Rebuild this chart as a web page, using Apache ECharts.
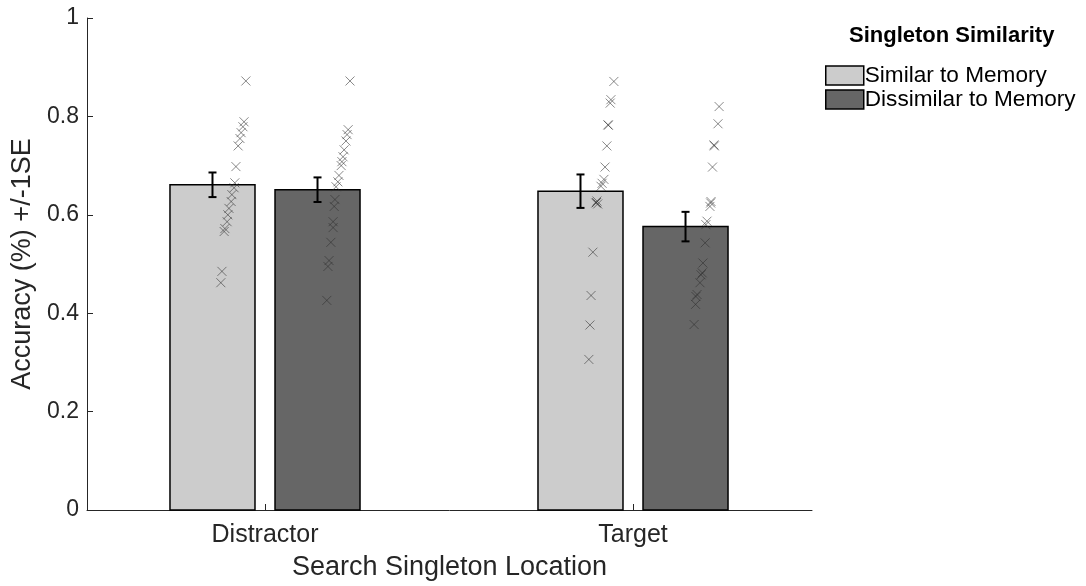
<!DOCTYPE html>
<html><head><meta charset="utf-8">
<script src="https://cdn.jsdelivr.net/npm/echarts@6/dist/echarts.min.js"></script>
<style>html,body{margin:0;padding:0;background:#fff}#c{width:1086px;height:586px}</style>
</head><body><div id="c"></div>
<script>
// ---------------- data ----------------
const categories = ['Distractor', 'Target'];
const seriesNames = ['Similar to Memory', 'Dissimilar to Memory'];
const similarMeans = [0.661, 0.648];
const dissimilarMeans = [0.651, 0.576];
const similarSE = [0.025, 0.034];
const dissimilarSE = [0.025, 0.030];
const yTicks = [0, 0.2, 0.4, 0.6, 0.8, 1];

// individual accuracies (y) and their plotted (jittered) x positions
const distSimY = [0.872, 0.789, 0.779, 0.767, 0.755, 0.740, 0.698, 0.665, 0.655, 0.641, 0.627, 0.613, 0.600, 0.586, 0.572, 0.566, 0.485, 0.462];
const distSimX = [0.948, 0.943, 0.940, 0.935, 0.932, 0.927, 0.921, 0.918, 0.916, 0.910, 0.908, 0.902, 0.899, 0.897, 0.891, 0.889, 0.883, 0.880];
const distDisY = [0.872, 0.773, 0.763, 0.750, 0.732, 0.718, 0.708, 0.700, 0.680, 0.667, 0.657, 0.631, 0.617, 0.586, 0.574, 0.544, 0.507, 0.495, 0.426];
const distDisX = [1.231, 1.226, 1.223, 1.220, 1.215, 1.212, 1.209, 1.207, 1.201, 1.198, 1.193, 1.190, 1.188, 1.185, 1.185, 1.179, 1.174, 1.171, 1.168];
const targSimY = [0.871, 0.834, 0.827, 0.783, 0.782, 0.740, 0.697, 0.672, 0.664, 0.658, 0.628, 0.625, 0.622, 0.624, 0.524, 0.436, 0.376, 0.306];
const targSimX = [1.948, 1.940, 1.938, 1.932, 1.933, 1.929, 1.924, 1.921, 1.916, 1.913, 1.902, 1.901, 1.904, 1.899, 1.891, 1.886, 1.883, 1.880];
const targDisY = [0.820, 0.785, 0.742, 0.740, 0.697, 0.627, 0.624, 0.617, 0.587, 0.580, 0.543, 0.502, 0.482, 0.478, 0.462, 0.438, 0.434, 0.418, 0.377];
const targDisX = [2.234, 2.231, 2.220, 2.221, 2.216, 2.212, 2.211, 2.209, 2.201, 2.198, 2.196, 2.190, 2.188, 2.185, 2.182, 2.174, 2.171, 2.170, 2.166];

// ---------------- styling ----------------
const FONT = 'Liberation Sans, Arial, Helvetica, sans-serif';
const AX = '#262626';
const BAR_W = 0.231;       // bar width in axis units
const BAR_OFF = 0.1427;    // offset of each bar from category centre
const CAP = 4;             // half cap width, px
const colors = ['#cccccc', '#666666'];

function barSeries(idx, means, ses, offset) {
  return {
    type: 'custom', name: seriesNames[idx], z: 2,
    itemStyle: { color: colors[idx], borderColor: '#000', borderWidth: 1.5 },
    data: means.map((m, i) => [i + 1, m, ses[i]]),
    renderItem(params, api) {
      const cx = api.value(0) + offset, v = api.value(1), se = api.value(2);
      const a = api.coord([cx - BAR_W / 2, 0]);
      const b = api.coord([cx + BAR_W / 2, v]);
      const top = api.coord([cx, v + se]);
      const bot = api.coord([cx, v - se]);
      return { type: 'group', children: [
        { type: 'rect', shape: { x: a[0], y: b[1], width: b[0] - a[0], height: a[1] - b[1] },
          style: { fill: colors[idx], stroke: '#000', lineWidth: 1.5 } },
        { type: 'line', shape: { x1: top[0], y1: top[1], x2: bot[0], y2: bot[1] }, style: { stroke: '#000', lineWidth: 2 } },
        { type: 'line', shape: { x1: top[0] - CAP, y1: top[1], x2: top[0] + CAP, y2: top[1] }, style: { stroke: '#000', lineWidth: 2 } },
        { type: 'line', shape: { x1: bot[0] - CAP, y1: bot[1], x2: bot[0] + CAP, y2: bot[1] }, style: { stroke: '#000', lineWidth: 2 } }
      ] };
    }
  };
}
function pts(xs, ys) {
  return {
    type: 'scatter', name: 'pts', z: 5, silent: true,
    symbol: 'path://M0,0L10,10M10,0L0,10', symbolSize: 9,
    itemStyle: { color: 'rgba(0,0,0,0)', borderColor: 'rgba(45,45,45,0.7)', borderWidth: 1 },
    data: xs.map((x, i) => [x, ys[i]])
  };
}

const chart = echarts.init(document.getElementById('c'), null, { renderer: 'canvas' });
chart.setOption({
  animation: false,
  backgroundColor: '#fff',
  textStyle: { fontFamily: FONT },
  title: { text: 'Singleton Similarity', left: 844, top: 20,
    textStyle: { fontFamily: FONT, fontWeight: 'bold', fontSize: 22, color: '#000' } },
  legend: {
    left: 825, top: 64, orient: 'vertical', padding: 0, itemGap: 1,
    itemWidth: 38, itemHeight: 19,
    textStyle: { fontFamily: FONT, fontSize: 22.6, lineHeight: 19, color: '#000', padding: [0, 0, 0, -4] },
    data: seriesNames.map((n, i) => ({ name: n, icon: 'rect',
      itemStyle: { color: colors[i], borderColor: '#000', borderWidth: 1.5 } }))
  },
  grid: { left: 87, right: 274, top: 18, bottom: 75, containLabel: false },
  xAxis: {
    type: 'value', min: 0.5163, max: 2.4864,
    name: 'Search Singleton Location', nameLocation: 'middle', nameGap: 44,
    nameTextStyle: { fontFamily: FONT, fontSize: 27, color: AX },
    axisLine: { show: true, lineStyle: { color: AX, width: 1 } },
    axisTick: { show: true, inside: true, length: 6, customValues: [1, 2], lineStyle: { color: AX } },
    axisLabel: { customValues: [1, 2], margin: 13, fontSize: 25, color: AX, fontFamily: FONT,
      formatter: v => categories[Math.round(v) - 1] || '' },
    splitLine: { show: false }
  },
  yAxis: {
    type: 'value', min: 0, max: 1, interval: 0.2,
    name: 'Accuracy (%) +/-1SE', nameLocation: 'middle', nameGap: 46, nameRotate: 90,
    nameTextStyle: { fontFamily: FONT, fontSize: 27, color: AX },
    axisLine: { show: true, lineStyle: { color: AX, width: 1 } },
    axisTick: { show: true, inside: true, length: 6, lineStyle: { color: AX } },
    axisLabel: { margin: 8, fontSize: 23, color: AX, fontFamily: FONT,
      formatter: v => String(+v.toFixed(1)) },
    splitLine: { show: false }
  },
  series: [
    barSeries(0, similarMeans, similarSE, -BAR_OFF),
    barSeries(1, dissimilarMeans, dissimilarSE, BAR_OFF),
    pts(distSimX, distSimY), pts(distDisX, distDisY),
    pts(targSimX, targSimY), pts(targDisX, targDisY)
  ]
});
</script></body></html>
